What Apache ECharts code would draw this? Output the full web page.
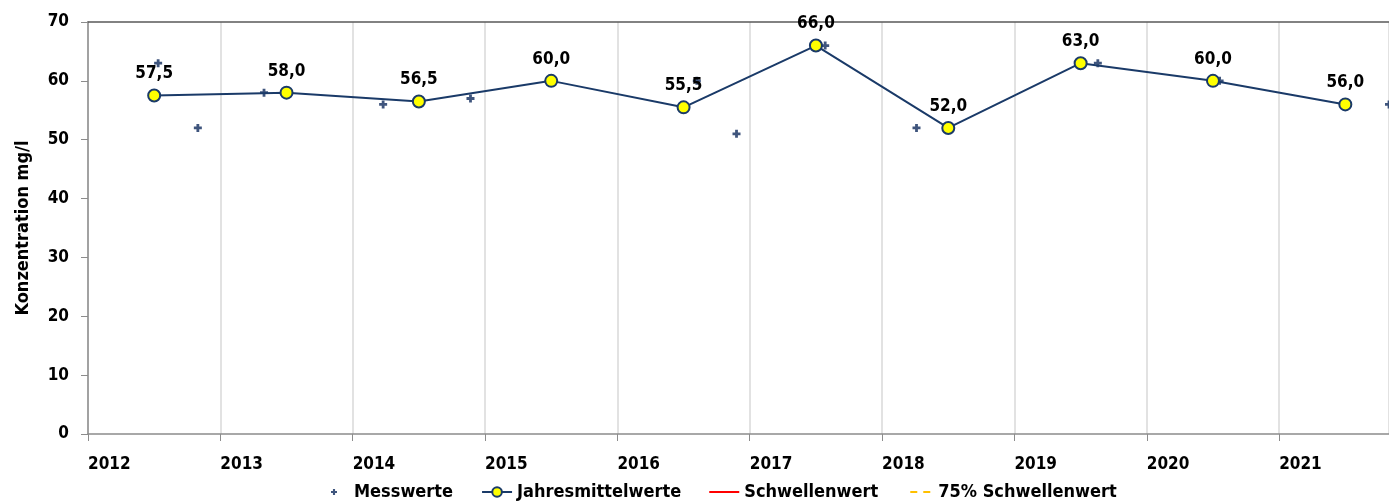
<!DOCTYPE html>
<html><head><meta charset="utf-8">
<script src="https://cdn.jsdelivr.net/npm/echarts@6/dist/echarts.min.js"></script>
<style>html,body{margin:0;padding:0;background:#fff}#c{width:1389px;height:502px}</style>
</head><body><div id="c"></div>
<script>
// Annual means (mid-year positions)
const meanDates = [2012.5, 2013.5, 2014.5, 2015.5, 2016.5, 2017.5, 2018.5, 2019.5, 2020.5, 2021.5];
const meanValues = [57.5, 58.0, 56.5, 60.0, 55.5, 66.0, 52.0, 63.0, 60.0, 56.0];
// Individual measurements (decimal years)
const measDates = [2012.53, 2012.83, 2013.33, 2014.23, 2014.89, 2015.51, 2016.6, 2016.9, 2017.57, 2018.26, 2019.63, 2020.55, 2021.83];
const measValues = [63, 52, 58, 56, 57, 60, 60, 51, 66, 52, 63, 60, 56];
const threshold = [];
const threshold75 = [];
const xMin = 2012, xMax = 2021.83;
const yTicks = [0, 10, 20, 30, 40, 50, 60, 70];

const FONT = '"Liberation Sans Narrow", "DejaVu Sans Condensed", sans-serif';
const chart = echarts.init(document.getElementById('c'));
const cross = 'path://M2.6,0H5.4V2.6H8V5.4H5.4V8H2.6V5.4H0V2.6H2.6Z';
const crossLegend = 'path://M-4,-4M12,12M2.6,0H5.4V2.6H8V5.4H5.4V8H2.6V5.4H0V2.6H2.6Z';
const solidLegend = 'path://M0,0M0,12M0,5H30V7H0Z';
const dashLegend = 'path://M0,0M0,12M4,5H11V7H4ZM17,5H24V7H17Z';
chart.setOption({
  animation: false,
  textStyle: { fontFamily: FONT },
  grid: { left: 88, right: 0, top: 22, bottom: 68 },
  legend: {
    top: 478, left: 323, itemGap: 28, itemWidth: 30, itemHeight: 12,
    textStyle: { fontFamily: FONT, fontWeight: 'bold', fontSize: 18, color: '#000' },
    data: [
      { name: 'Messwerte', icon: crossLegend, itemStyle: { color: '#0f2a5c' } },
      'Jahresmittelwerte',
      { name: 'Schwellenwert', icon: solidLegend, itemStyle: { color: '#ff0000' } },
      { name: '75% Schwellenwert', icon: dashLegend, itemStyle: { color: '#ffc000' } }
    ]
  },
  xAxis: [{
    type: 'value', min: xMin, max: xMax, interval: 1,
    axisLine: { show: true, lineStyle: { color: '#8c8c8c', width: 1.5 } },
    axisTick: { show: true, length: 7, lineStyle: { color: '#8c8c8c' } },
    splitLine: { show: true, lineStyle: { color: '#d9d9d9', width: 1.5 } },
    axisLabel: {
      margin: 22, align: 'left', color: '#000', fontWeight: 'bold', fontSize: 17, fontFamily: FONT,
      formatter: v => Number.isInteger(v) ? String(v) : '',
      showMaxLabel: false
    }
  }, {
    type: 'value', min: xMin, max: xMax, position: 'top',
    axisLine: { show: true, onZero: false, lineStyle: { color: '#595959', width: 1.5 } },
    axisTick: { show: false }, axisLabel: { show: false }, splitLine: { show: false }
  }],
  yAxis: {
    type: 'value', min: 0, max: 70, interval: 10,
    name: 'Konzentration mg/l', nameLocation: 'middle', nameGap: 56,
    nameTextStyle: { fontFamily: FONT, fontWeight: 'bold', fontSize: 18, color: '#000' },
    axisLine: { show: true, lineStyle: { color: '#8c8c8c', width: 1.5 } },
    axisTick: { show: true, inside: false, length: 7, lineStyle: { color: '#8c8c8c' } },
    splitLine: { show: false },
    axisLabel: { margin: 19, color: '#000', fontWeight: 'bold', fontSize: 17, fontFamily: FONT,
      formatter: v => yTicks.includes(v) ? String(v) : '' }
  },
  series: [{
    name: 'Messwerte', type: 'scatter', symbol: cross, symbolSize: 8,
    itemStyle: { color: '#0f2a5c' },
    data: measDates.map((d, i) => [d, measValues[i]]), z: 2
  }, {
    name: 'Jahresmittelwerte', type: 'line', symbol: 'circle', symbolSize: 12,
    lineStyle: { color: '#1a3a68', width: 2 },
    itemStyle: { color: '#ffff00', borderColor: '#1a3a68', borderWidth: 2 },
    label: { show: true, position: 'top', distance: 6, color: '#000', fontWeight: 'bold', fontSize: 17,
      fontFamily: FONT, formatter: p => p.value[1].toFixed(1).replace('.', ',') },
    data: meanDates.map((d, i) => [d, meanValues[i]]), z: 3
  }, {
    name: 'Schwellenwert', type: 'line', symbol: 'none',
    lineStyle: { color: '#ff0000', width: 2 }, itemStyle: { color: '#ff0000' }, data: threshold
  }, {
    name: '75% Schwellenwert', type: 'line', symbol: 'none',
    lineStyle: { color: '#ffc000', width: 2, type: 'dashed' }, itemStyle: { color: '#ffc000' }, data: threshold75
  }]
});
</script></body></html>
